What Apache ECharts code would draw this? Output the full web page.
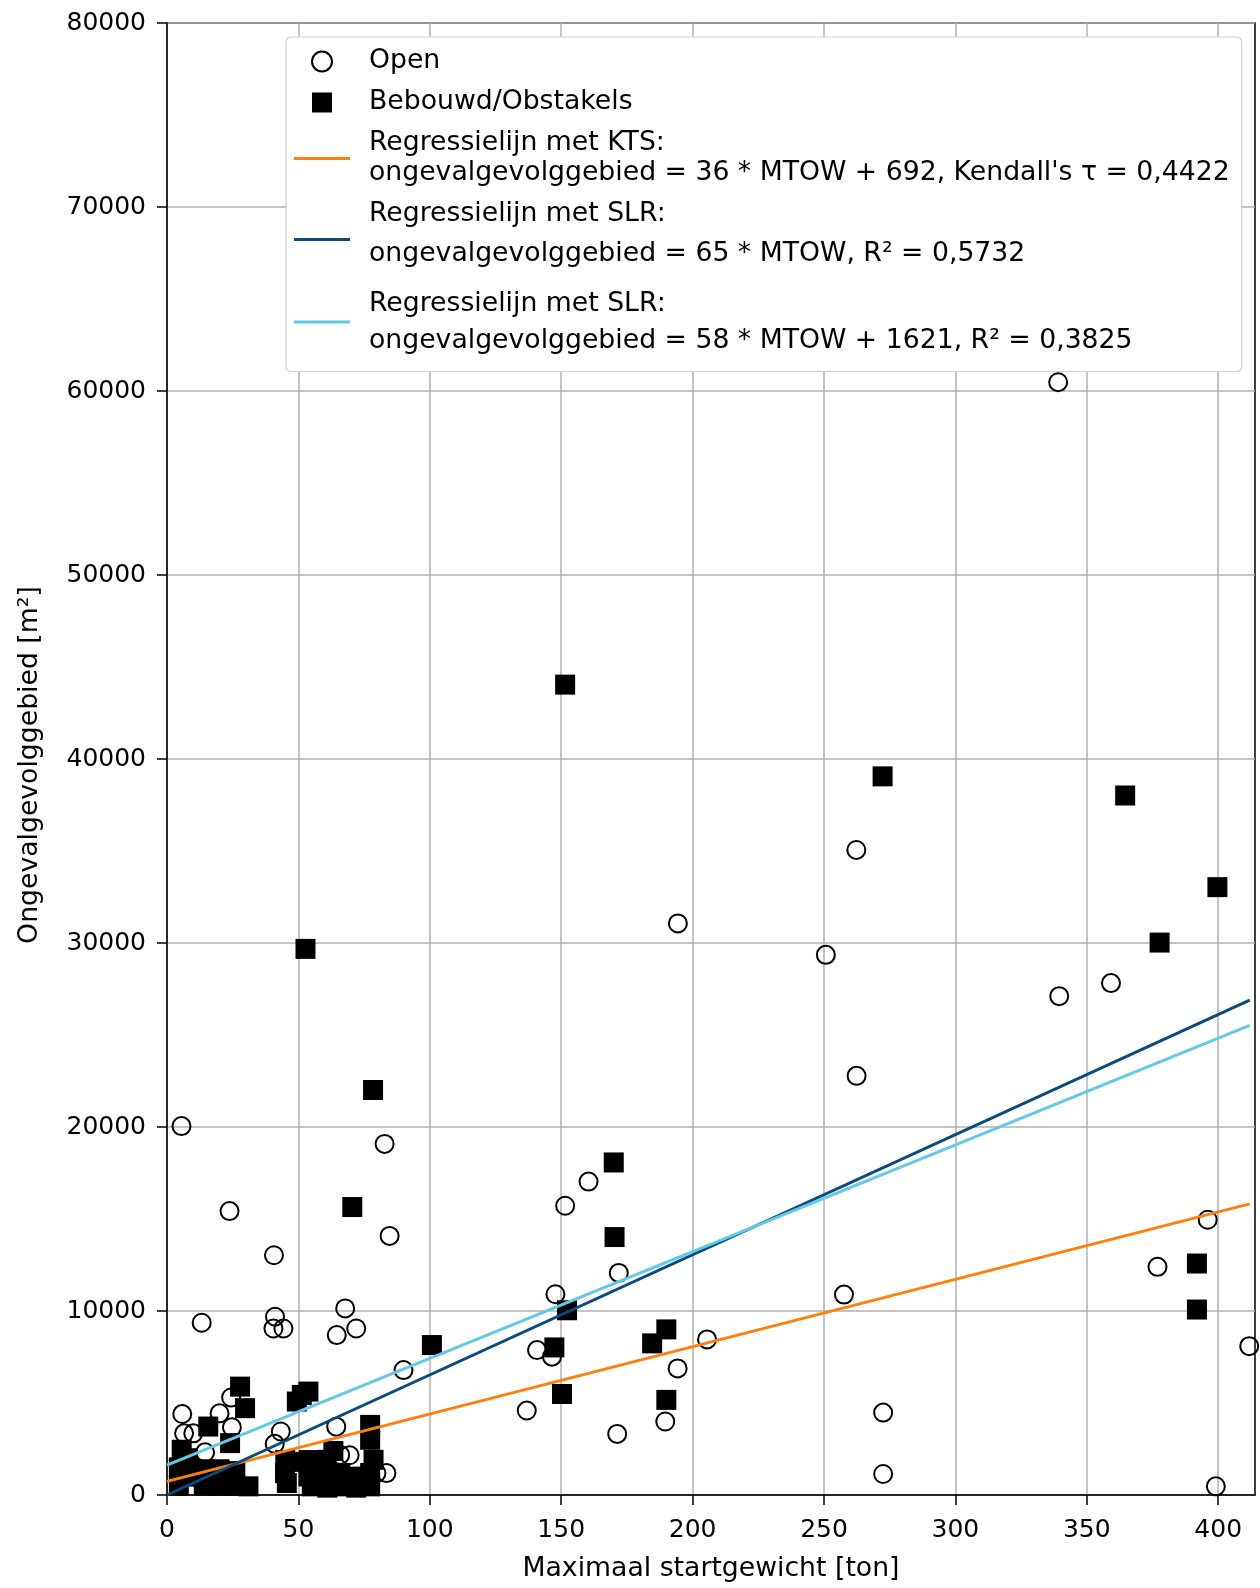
<!DOCTYPE html>
<html>
<head>
<meta charset="utf-8">
<script src="https://cdn.jsdelivr.net/npm/echarts@6/dist/echarts.min.js"></script>
<style>
html,body{margin:0;padding:0;background:#fff;}
#chart{width:1260px;height:1588px;}
</style>
</head>
<body>
<div id="chart"></div>
<script>
// ---- data ----
const xTicks = [0, 50, 100, 150, 200, 250, 300, 350, 400];
const yTicks = [0, 10000, 20000, 30000, 40000, 50000, 60000, 70000, 80000];

// Open (hollow circles): [MTOW ton, area m2]
const openPoints = [
  [5.5, 20050], [23.8, 15430], [40.7, 13030], [82.8, 19080], [84.7, 14080],
  [13.2, 9360], [41.1, 9690], [40.5, 9050], [44.3, 9050], [67.8, 10140], [64.6, 8690], [72, 9050], [90, 6790],
  [5.8, 4400], [20, 4440], [6.5, 3350], [10, 3350], [24.7, 3680], [24.4, 5300], [43.3, 3450], [41, 2780],
  [14.5, 2320], [64.4, 3715], [65.9, 2180], [79.7, 1190], [83.5, 1190], [69.5, 2160],
  [147.8, 10910], [140.8, 7875], [146.5, 7520], [136.9, 4590], [171.9, 12070], [171.3, 3320],
  [151.5, 15720], [160.4, 17035], [194.3, 6880], [205.5, 8455], [189.6, 3995], [194.4, 31063],
  [250.7, 29356], [262.3, 35057], [262.4, 22780], [257.6, 10890], [272.5, 4480], [272.5, 1140],
  [339.1, 60478], [339.5, 27110], [359.2, 27823], [376.9, 12400], [396, 14960], [411.8, 8090], [399.1, 470]
];

// Bebouwd/Obstakels (filled squares)
const builtPoints = [
  [151.5, 44042], [272.3, 39057], [364.6, 38016], [399.7, 33035], [377.7, 30022],
  [52.7, 29680], [78.4, 22010], [70.5, 15650], [170, 18073], [170.3, 14019],
  [391.9, 12580], [391.9, 10080], [152.2, 10040], [100.8, 8150], [147.4, 8020],
  [184.6, 8240], [190, 9000], [150.3, 5490], [190, 5170],
  [27.8, 5890], [29.7, 4720], [51.3, 5440], [53.8, 5620], [49.4, 5080], [15.7, 3720],
  [24, 2820], [5.6, 2460], [4.5, 1500], [4.5, 500], [8, 1000], [8, 2000],
  [14, 500], [14, 1400], [20, 500], [20, 1400], [26, 500], [26, 1300], [31, 470],
  [44.9, 1190], [45.6, 650], [53.8, 1010], [55.1, 470], [50, 1800], [45, 1900], [54, 1900],
  [77.3, 3810], [77.3, 3000], [78.6, 1910], [77.3, 1200], [77.3, 470],
  [60.8, 1910], [63.3, 2390], [61, 1000], [61, 400], [65.9, 1190], [68.4, 470], [72, 1000], [72, 400]
];

// regression lines: endpoints
const ktsLine = [[0, 740], [412, 15820]];
const slrLine = [[0, 0], [412, 26900]];
const slr2Line = [[0, 1621], [412, 25520]];

const nameOpen = 'Open';
const nameBuilt = 'Bebouwd/Obstakels';
const nameKts = 'Regressielijn met KTS:\nongevalgevolggebied = 36 * MTOW + 692, Kendall\'s τ = 0,4422';
const nameSlr = 'Regressielijn met SLR:\nongevalgevolggebied = 65 * MTOW, R² = 0,5732';
const nameSlr2 = 'Regressielijn met SLR:\nongevalgevolggebied = 58 * MTOW + 1621, R² = 0,3825';

const FONT = 'DejaVu Sans';
const LFS = 26.7;
const chart = echarts.init(document.getElementById('chart'), null, {renderer: 'canvas'});
const lineIcon = 'path://M0,0H56V3H0Z';

chart.setOption({
  animation: false,
  backgroundColor: '#fff',
  textStyle: {fontFamily: FONT},
  grid: {left: 167, right: 5, top: 23, bottom: 86, show: true, borderColor: '#000', borderWidth: 1.5, backgroundColor: 'transparent'},
  legend: {
    orient: 'vertical',
    left: 286, top: 37,
    padding: [11, 12, 17, 8],
    itemGap: 14,
    itemWidth: 56, itemHeight: 20,
    backgroundColor: '#fff',
    borderColor: '#d0d0d0', borderWidth: 1.2, borderRadius: 5,
    symbolKeepAspect: true,
    data: [
      {name: nameOpen},
      {name: nameBuilt, icon: 'path://M0,0H10V10H0Z'},
      {name: nameKts, icon: lineIcon}, {name: nameSlr, icon: lineIcon}, {name: nameSlr2, icon: lineIcon}
    ],
    formatter: function (name) {
      if (name.indexOf('\n') < 0) return '{a|' + name + '}';
      const p = name.split('\n');
      if (name === nameSlr) return '{a|' + p[0] + '}\n{b|' + p[1] + '}';
      if (name === nameSlr2) return '{e| }\n{a|' + p[0] + '}\n{d|' + p[1] + '}';
      return '{a|' + p[0] + '}\n{a|' + p[1] + '}';
    },
    textStyle: {
      fontFamily: FONT, fontSize: LFS, color: '#000', padding: [0, 0, 0, 14],
      rich: {
        a: {fontFamily: FONT, fontSize: LFS, lineHeight: 30, color: '#000'},
        b: {fontFamily: FONT, fontSize: LFS, lineHeight: 50, color: '#000'},
        d: {fontFamily: FONT, fontSize: LFS, lineHeight: 44, color: '#000'},
        e: {fontFamily: FONT, fontSize: 6, lineHeight: 8, color: '#000'}
      }
    }
  },
  xAxis: {
    type: 'value', min: 0, max: 414, interval: 50,
    name: 'Maximaal startgewicht [ton]', nameLocation: 'middle', nameGap: 61,
    nameTextStyle: {fontFamily: FONT, fontSize: LFS, color: '#000'},
    axisLine: {show: true, onZero: false, lineStyle: {color: '#000', width: 1.5}},
    axisTick: {show: true, inside: false, length: 10, lineStyle: {color: '#000', width: 1.5}, customValues: xTicks},
    axisLabel: {fontFamily: FONT, fontSize: 25, color: '#000', margin: 23, customValues: xTicks,
      formatter: function (v) { return String(v); }},
    splitLine: {show: true, lineStyle: {color: '#b0b0b0', width: 1.5}}
  },
  yAxis: {
    type: 'value', min: 0, max: 80000, interval: 10000,
    name: 'Ongevalgevolggebied [m²]', nameLocation: 'middle', nameGap: 123, nameRotate: 90,
    nameTextStyle: {fontFamily: FONT, fontSize: LFS, color: '#000', padding: [0, 12, 0, 0]},
    axisLine: {show: true, onZero: false, lineStyle: {color: '#000', width: 1.5}},
    axisTick: {show: true, inside: false, length: 10, lineStyle: {color: '#000', width: 1.5}, customValues: yTicks},
    axisLabel: {fontFamily: FONT, fontSize: 25, color: '#000', margin: 21, customValues: yTicks,
      formatter: function (v) { return String(v); }},
    splitLine: {show: true, lineStyle: {color: '#b0b0b0', width: 1.5}}
  },
  series: [
    {
      name: nameOpen, type: 'scatter', data: openPoints,
      symbol: 'circle', symbolSize: 18,
      itemStyle: {color: 'rgba(255,255,255,0)', borderColor: '#000', borderWidth: 2, opacity: 1},
      z: 3
    },
    {
      name: nameBuilt, type: 'scatter', data: builtPoints,
      symbol: 'rect', symbolSize: 20,
      itemStyle: {color: '#000', borderWidth: 0, opacity: 1},
      z: 4
    },
    {
      name: nameKts, type: 'line', data: ktsLine, symbol: 'none', showSymbol: false,
      lineStyle: {color: '#ff7f0e', width: 3}, itemStyle: {color: '#ff7f0e'}, z: 5
    },
    {
      name: nameSlr, type: 'line', data: slrLine, symbol: 'none', showSymbol: false,
      lineStyle: {color: '#0b4a7d', width: 3}, itemStyle: {color: '#0b4a7d'}, z: 5
    },
    {
      name: nameSlr2, type: 'line', data: slr2Line, symbol: 'none', showSymbol: false,
      lineStyle: {color: '#62c9e6', width: 3}, itemStyle: {color: '#62c9e6'}, z: 5
    }
  ]
});
</script>
</body>
</html>
